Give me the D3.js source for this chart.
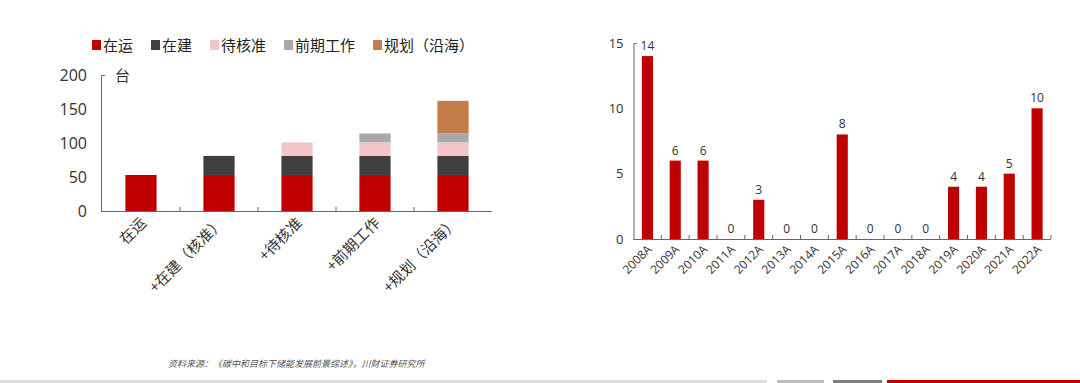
<!DOCTYPE html>
<html>
<head>
<meta charset="utf-8">
<script src="https://cdn.jsdelivr.net/npm/d3@7"></script>
<style>
  body { margin: 0; background: #fff; }
  svg { display: block; font-family: "Noto Sans CJK SC", "Noto Sans", sans-serif; }
</style>
</head>
<body>
<div id="chart"></div>
<script>
// left chart: nuclear units by stage
const stages = ['在运', '+在建（核准）', '+待核准', '+前期工作', '+规划（沿海）'];
const seriesNames = ['在运', '在建', '待核准', '前期工作', '规划（沿海）'];
const seriesColors = ['#c00000', '#3f3f3f', '#f4c5c8', '#a9a9a9', '#c47d4a'];
const opValues = [53, 53, 53, 53, 53];
const buildValues = [0, 28, 28, 28, 28];
const pendingValues = [0, 0, 20, 20, 20];
const prepValues = [0, 0, 0, 13, 13];
const planValues = [0, 0, 0, 0, 48];
const leftTicks = [0, 50, 100, 150, 200];

// right chart: approvals per year
const years = ['2008A', '2009A', '2010A', '2011A', '2012A', '2013A', '2014A', '2015A',
  '2016A', '2017A', '2018A', '2019A', '2020A', '2021A', '2022A'];
const approvals = [14, 6, 6, 0, 3, 0, 0, 8, 0, 0, 0, 4, 4, 5, 10];
const rightTicks = [0, 5, 10, 15];

const sourceText = '资料来源：《碳中和目标下储能发展前景综述》，川财证券研究所';

const width = 1080, height = 383;
const svg = d3.select('#chart').append('svg')
  .attr('width', width)
  .attr('height', height);

// ---- left chart ----
const rows = stages.map((s, i) => ({
  stage: s,
  '在运': opValues[i], '在建': buildValues[i], '待核准': pendingValues[i],
  '前期工作': prepValues[i], '规划（沿海）': planValues[i]
}));
const stacked = d3.stack().keys(seriesNames)(rows);

const xL = d3.scaleBand().domain(stages).range([102, 492]).paddingInner(0.6).paddingOuter(0.3);
const yL = d3.scaleLinear().domain([0, 200]).range([211, 75]);
const color = d3.scaleOrdinal().domain(seriesNames).range(seriesColors);

const gL = svg.append('g');
gL.selectAll('g.layer')
  .data(stacked)
  .join('g')
  .attr('class', 'layer')
  .attr('fill', d => color(d.key))
  .selectAll('rect')
  .data(d => d)
  .join('rect')
  .attr('x', d => xL(d.data.stage))
  .attr('width', xL.bandwidth())
  .attr('y', d => yL(d[1]))
  .attr('height', d => yL(d[0]) - yL(d[1]));

const yAxisL = gL.append('g')
  .attr('transform', 'translate(101,0)')
  .call(d3.axisLeft(yL).tickValues(leftTicks).tickSizeInner(0).tickSizeOuter(-4).tickPadding(14));
yAxisL.select('.domain').attr('stroke', '#666');
yAxisL.selectAll('text').attr('font-size', 16).attr('fill', '#333')
  .attr('font-family', '"Open Sans", "Noto Sans", sans-serif');

gL.append('text').attr('x', 115).attr('y', 81).attr('font-size', 15).attr('fill', '#333').text('台');

// x axis with ticks between bands
gL.append('line').attr('x1', 101).attr('x2', 492).attr('y1', 211.5).attr('y2', 211.5).attr('stroke', '#666');
gL.selectAll('line.sep')
  .data(stages.slice(1))
  .join('line')
  .attr('class', 'sep')
  .attr('x1', d => xL(d) - xL.step() * 0.3)
  .attr('x2', d => xL(d) - xL.step() * 0.3)
  .attr('y1', 211).attr('y2', 207)
  .attr('stroke', '#666');

gL.selectAll('text.xlab')
  .data(stages)
  .join('text')
  .attr('class', 'xlab')
  .attr('text-anchor', 'end')
  .attr('font-size', 15)
  .attr('fill', '#333')
  .attr('transform', d => `translate(${xL(d) + xL.bandwidth() / 2 + 6},${224}) rotate(-45)`)
  .text(d => d);

// legend
const legend = svg.append('g').attr('transform', 'translate(92,45)');
let lx = 0;
seriesNames.forEach((name, i) => {
  const item = legend.append('g').attr('transform', `translate(${lx},0)`);
  item.append('rect').attr('x', 0).attr('y', -5).attr('width', 9).attr('height', 10).attr('fill', seriesColors[i]);
  const t = item.append('text').attr('x', 11).attr('y', 5.5).attr('font-size', 15).attr('fill', '#222').text(name);
  lx += 11 + t.node().getComputedTextLength() + 18;
});

// ---- right chart ----
const xR = d3.scaleBand().domain(years).range([633.5, 1051]).paddingInner(0.6).paddingOuter(0.3);
const yR = d3.scaleLinear().domain([0, 15]).range([239, 43]);
const gR = svg.append('g');

gR.selectAll('rect')
  .data(years)
  .join('rect')
  .attr('x', d => xR(d))
  .attr('width', xR.bandwidth())
  .attr('y', (d, i) => yR(approvals[i]))
  .attr('height', (d, i) => yR(0) - yR(approvals[i]))
  .attr('fill', '#c00000');

const yAxisR = gR.append('g')
  .attr('transform', 'translate(633.5,0)')
  .call(d3.axisLeft(yR).tickValues(rightTicks).tickSizeInner(0).tickSizeOuter(-3).tickPadding(10));
yAxisR.select('.domain').attr('stroke', '#666');
yAxisR.selectAll('text').attr('font-size', 13).attr('fill', '#333')
  .attr('font-family', '"Open Sans", "Noto Sans", sans-serif');

gR.append('line').attr('x1', 633.5).attr('x2', 1051).attr('y1', 239.5).attr('y2', 239.5).attr('stroke', '#666');
gR.selectAll('line.sep')
  .data(years.slice(1).concat(['end']))
  .join('line')
  .attr('class', 'sep')
  .attr('x1', (d, i) => 633.5 + xR.step() * (i + 1))
  .attr('x2', (d, i) => 633.5 + xR.step() * (i + 1))
  .attr('y1', 239).attr('y2', 235)
  .attr('stroke', '#666');

gR.selectAll('text.val')
  .data(years)
  .join('text')
  .attr('class', 'val')
  .attr('text-anchor', 'middle')
  .attr('font-size', 12)
  .attr('fill', '#333')
  .attr('font-family', '"Open Sans", "Noto Sans", sans-serif')
  .attr('x', d => xR(d) + xR.bandwidth() / 2)
  .attr('y', (d, i) => yR(approvals[i]) - 6)
  .text((d, i) => approvals[i]);

gR.selectAll('text.xlab')
  .data(years)
  .join('text')
  .attr('class', 'xlab')
  .attr('text-anchor', 'end')
  .attr('font-size', 12)
  .attr('fill', '#333')
  .attr('font-family', '"Open Sans", "Noto Sans", sans-serif')
  .attr('transform', d => `translate(${xR(d) + xR.bandwidth() / 2 + 5},${250}) rotate(-45)`)
  .text(d => d);

// source note
svg.append('text')
  .attr('x', 168).attr('y', 367)
  .attr('font-size', 9)
  .attr('font-style', 'italic')
  .attr('fill', '#555')
  .text(sourceText);

// bottom strip
const strip = [[0, 767, '#dcdcdc'], [777, 824, '#bdbdbd'], [833, 882, '#7f7f7f'], [887, 1080, '#c00000']];
svg.selectAll('rect.strip')
  .data(strip)
  .join('rect')
  .attr('class', 'strip')
  .attr('x', d => d[0]).attr('width', d => d[1] - d[0])
  .attr('y', 380).attr('height', 3)
  .attr('fill', d => d[2]);
</script>
</body>
</html>
